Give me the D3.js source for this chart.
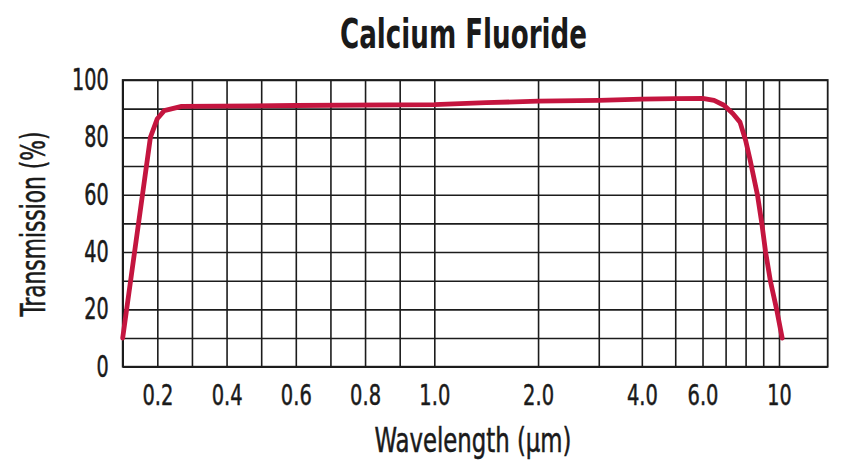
<!DOCTYPE html>
<html><head><meta charset="utf-8">
<script src="https://cdn.jsdelivr.net/npm/d3@7"></script>
<style>
html,body{margin:0;padding:0;background:#fff;}
svg{display:block;}
text{font-family:"Liberation Sans Narrow","DejaVu Sans Condensed",sans-serif;fill:#1a1a1a;}
</style></head><body>
<svg id="chart" width="851" height="469"></svg>
<script>
// ---- data ----
const chartTitle = "Calcium Fluoride";
const xTitle = "Wavelength (\u03bcm)";
const yTitle = "Transmission (%)";
const xGridValues = [0.1,0.2,0.3,0.4,0.5,0.6,0.7,0.8,0.9,1.0,2,3,4,5,6,7,8,9,10];
const xTickValues = [0.2,0.4,0.6,0.8,1.0,2,4,6,10];
const xTickLabels = ["0.2","0.4","0.6","0.8","1.0","2.0","4.0","6.0","10"];
const yGridValues = [0,10,20,30,40,50,60,70,80,90,100];
const yTickValues = [0,20,40,60,80,100];
const wavelength   = [0.1, 0.18, 0.2, 0.22, 0.27, 0.6, 1.0, 1.5, 2.0, 3.0, 4.0, 5.0, 6.0, 6.5, 6.93, 7.36, 7.72, 8.0, 8.26, 8.67, 8.92, 9.15, 9.45, 9.85, 10.25];
const transmission = [10, 80, 86.5, 89.3, 90.8, 91.1, 91.4, 92.1, 92.6, 92.9, 93.3, 93.5, 93.6, 92.9, 91.2, 88.3, 85.3, 79, 72, 60, 50, 40, 30, 20, 10];

// ---- layout ----
const plotLeft = 122.7, plotRight = 827.7, plotTop = 80, plotBottom = 366.7;
const xOnePos = 434.3, xTenPos = 779;

const svg = d3.select("#chart");

// hybrid scale: linear 0.1-1, logarithmic 1-10
const xLin = d3.scaleLinear().domain([0.1, 1]).range([plotLeft, xOnePos]);
const xLog = d3.scaleLog().domain([1, 10]).range([xOnePos, xTenPos]);
const xEnd = xLog.invert(plotRight);
const xDomain = xGridValues.concat([xEnd]);
const x = d3.scaleLinear()
  .domain(xDomain)
  .range(xDomain.map(v => v <= 1 ? xLin(v) : xLog(v)));
const y = d3.scaleLinear().domain([0, 100]).range([plotBottom, plotTop]);

const gridColor = "#1c1c1c";

// vertical grid
const vg = svg.append("g").attr("transform", `translate(0,${plotBottom})`)
  .call(d3.axisBottom(x).tickValues(xGridValues).tickSize(-(plotBottom - plotTop)).tickFormat(""));
vg.select(".domain").remove();
vg.selectAll("line").attr("stroke", gridColor).attr("stroke-width", 1.6);

// horizontal grid
const hg = svg.append("g").attr("transform", `translate(${plotLeft},0)`)
  .call(d3.axisLeft(y).tickValues(yGridValues).tickSize(-(plotRight - plotLeft)).tickFormat(""));
hg.select(".domain").remove();
hg.selectAll("line").attr("stroke", gridColor).attr("stroke-width", 1.6);

// border
svg.append("rect")
  .attr("x", plotLeft).attr("y", plotTop)
  .attr("width", plotRight - plotLeft).attr("height", plotBottom - plotTop)
  .attr("fill", "none").attr("stroke", gridColor).attr("stroke-width", 1.8);

// curve
const line = d3.line().x((d, i) => x(wavelength[i])).y(d => y(d));
svg.append("path")
  .datum(transmission)
  .attr("d", line)
  .attr("fill", "none")
  .attr("stroke", "#c4153f")
  .attr("stroke-width", 4.8)
  .attr("stroke-linejoin", "round")
  .attr("stroke-linecap", "round");

function labelWidth(s) {
  let w = 0;
  for (const c of s) w += (c === ".") ? 6.5 : 12.2;
  return w;
}

// x tick labels
const xa = svg.append("g").attr("transform", `translate(0,${plotBottom})`)
  .call(d3.axisBottom(x).tickValues(xTickValues).tickSize(0).tickPadding(18)
    .tickFormat((d, i) => xTickLabels[i]));
xa.select(".domain").remove();
xa.selectAll("text")
  .attr("font-size", 29)
  .attr("font-family", null)
  .attr("fill", "#1a1a1a")
  .attr("stroke", "#1a1a1a").attr("stroke-width", 0.5)
  .attr("textLength", d => labelWidth(xTickLabels[xTickValues.indexOf(d)]))
  .attr("lengthAdjust", "spacingAndGlyphs");

// y tick labels
const ya = svg.append("g").attr("transform", `translate(${plotLeft},0)`)
  .call(d3.axisLeft(y).tickValues(yTickValues).tickSize(0).tickPadding(14)
    .tickFormat(d => String(d)));
ya.select(".domain").remove();
ya.selectAll("text")
  .attr("font-size", 30)
  .attr("font-family", null)
  .attr("fill", "#1a1a1a")
  .attr("stroke", "#1a1a1a").attr("stroke-width", 0.5)
  .attr("textLength", d => labelWidth(String(d)))
  .attr("lengthAdjust", "spacingAndGlyphs");

// title
svg.append("text")
  .attr("x", 463.5).attr("y", 48)
  .attr("text-anchor", "middle")
  .attr("font-size", 40).attr("font-weight", "bold")
  .attr("textLength", 247).attr("lengthAdjust", "spacingAndGlyphs")
  .text(chartTitle);

// x title
svg.append("text")
  .attr("x", 473).attr("y", 452)
  .attr("text-anchor", "middle")
  .attr("font-size", 33)
  .attr("stroke", "#1a1a1a").attr("stroke-width", 0.5)
  .attr("textLength", 197).attr("lengthAdjust", "spacingAndGlyphs")
  .text(xTitle);

// y title
svg.append("text")
  .attr("transform", "translate(45,224) rotate(-90)")
  .attr("text-anchor", "middle")
  .attr("font-size", 33)
  .attr("stroke", "#1a1a1a").attr("stroke-width", 0.5)
  .attr("textLength", 185).attr("lengthAdjust", "spacingAndGlyphs")
  .text(yTitle);
</script>
</body></html>
